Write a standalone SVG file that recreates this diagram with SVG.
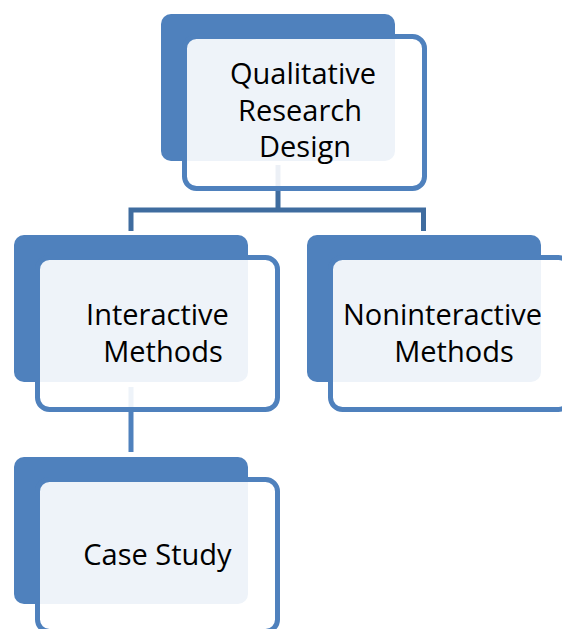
<svg xmlns="http://www.w3.org/2000/svg" width="562" height="629" viewBox="0 0 562 629">
<style>
.back{fill:#4F81BD;}
.front{fill:#FFFFFF;fill-opacity:0.9;stroke:#4F81BD;stroke-width:5;}
.conn{fill:none;stroke-width:5;}
.c1{stroke:#3F6C9F;}
.c2{stroke:#4F81BD;}
text{font-family:"Open Sans","Liberation Sans",sans-serif;font-size:29px;fill:#000000;text-anchor:middle;}
</style>
<rect width="562" height="629" fill="#FFFFFF"/>
<g id="connectors">
<path class="conn c1" d="M278,165 V210 M131,231 V210 H423.5 V231"/>
<path class="conn c2" d="M131,387 V452"/>
</g>
<g id="node-qualitative">
<rect class="back" x="161" y="14" width="234" height="147" rx="10"/>
<rect class="front" x="184.5" y="36.5" width="240" height="152" rx="12"/>
<text x="303" y="84">Qualitative</text>
<text x="300" y="120.5">Research</text>
<text x="305" y="157">Design</text>
</g>
<g id="node-interactive">
<rect class="back" x="14" y="235" width="234" height="147" rx="10"/>
<rect class="front" x="37.5" y="257.5" width="240" height="152" rx="12"/>
<text x="157.5" y="325">Interactive</text>
<text x="163" y="362">Methods</text>
</g>
<g id="node-noninteractive">
<rect class="back" x="307" y="235" width="234" height="147" rx="10"/>
<rect class="front" x="330.5" y="257.5" width="240" height="152" rx="12"/>
<text x="442.5" y="325">Noninteractive</text>
<text x="454" y="362">Methods</text>
</g>
<g id="node-casestudy">
<rect class="back" x="14" y="457" width="234" height="147" rx="10"/>
<rect class="front" x="37.5" y="479.5" width="240" height="152" rx="12"/>
<text x="157.5" y="565">Case Study</text>
</g>
</svg>
